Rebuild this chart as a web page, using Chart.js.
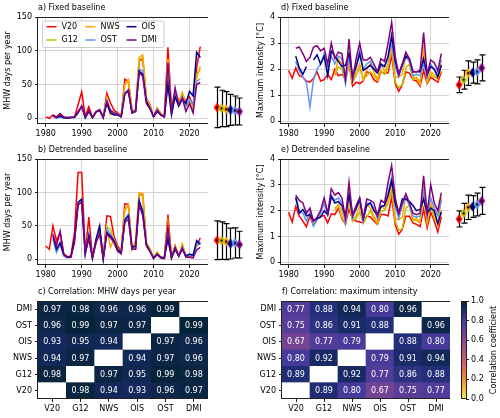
<!DOCTYPE html>
<html>
<head>
<meta charset="utf-8">
<script src="https://cdn.jsdelivr.net/npm/chart.js@4.4.1/dist/chart.umd.min.js"></script>
<style>
  body { margin: 0; background: #fff; }
  #fig { position: relative; width: 500px; height: 418px; overflow: hidden; background: #fff; }
  #fig canvas { position: absolute; }
</style>
</head>
<body>
<div id="fig">
  <canvas id="pa" width="208" height="145" style="left:0px;top:0px"></canvas>
  <canvas id="ea" width="42" height="145" style="left:208px;top:0px"></canvas>
  <canvas id="pb" width="208" height="144" style="left:0px;top:142px"></canvas>
  <canvas id="eb" width="42" height="144" style="left:208px;top:142px"></canvas>
  <canvas id="pd" width="197" height="145" style="left:252px;top:0px"></canvas>
  <canvas id="ed" width="43" height="145" style="left:449px;top:0px"></canvas>
  <canvas id="pe" width="197" height="144" style="left:252px;top:142px"></canvas>
  <canvas id="ee" width="43" height="144" style="left:449px;top:142px"></canvas>
  <canvas id="pc" width="208" height="134" style="left:0px;top:284px"></canvas>
  <canvas id="pf" width="198" height="134" style="left:252px;top:284px"></canvas>
  <canvas id="cb" width="44" height="118" style="left:456px;top:291px"></canvas>
</div>
<script>
var N = null;

// ---- data ----
var years = [1980,1981,1982,1983,1984,1985,1986,1987,1988,1989,
             1990,1991,1992,1993,1994,1995,1996,1997,1998,1999,
             2000,2001,2002,2003,2004,2005,2006,2007,2008,2009,
             2010,2011,2012,2013,2014,2015,2016,2017,2018,2019,
             2020,2021,2022,2023];
var xTicks = [1980, 1990, 2000, 2010, 2020];
var daysTicks = [0, 50, 100, 150];
var intTicks = [0, 1, 2, 3, 4];
var cbTicks = [0, 0.2, 0.4, 0.6, 0.8, 1.0];
var models = ['V20', 'G12', 'NWS', 'OIS', 'OST', 'DMI'];

// a) MHW days per year, fixed baseline
var daysFixV20 = [2,0,5,2,5,1,1,1,2,20, 39,3,17,1,10,12,1,37,23,12, 8,3,58,55,12,12,85,88,30,20, 3,15,7,3,105,15,40,25,35,25, 32,18,75,106];
var daysFixG12 = [N,N,N,N,N,N,N,N,N,N, N,N,N,1,10,12,1,28,10,8, 6,3,50,55,10,12,86,90,28,18, 3,14,6,3,85,12,38,22,38,18, 22,12,65,73];
var daysFixNWS = [N,N,N,N,N,N,N,N,N,N, N,N,N,1,9,13,1,30,5,8, 6,3,50,57,10,12,90,94,28,18, 3,15,6,3,88,12,40,22,38,18, 25,15,60,77];
var daysFixOST = [N,N,3,1,2,0,1,1,2,9, 17,1,11,1,10,13,1,26,10,7, 6,2,38,42,9,12,73,70,24,15, 3,13,5,2,55,8,35,20,32,18, 28,20,55,58];
var daysFixOIS = [N,N,4,1,3,1,0,1,1,8, 18,1,10,1,9,12,1,22,8,5, 5,2,36,40,8,10,70,65,25,15, 2,10,5,2,50,5,32,18,28,22, 40,33,98,90];
var daysFixDMI = [N,N,3,2,7,2,1,1,2,10, 18,2,12,1,10,12,1,25,12,8, 6,3,36,42,8,10,68,62,22,14, 2,12,5,2,82,10,45,20,30,10, 22,8,50,53];

// b) MHW days per year, detrended baseline
var daysDetV20 = [20,15,50,28,40,8,4,5,40,130, 130,10,63,3,25,45,2,65,64,35, 20,12,83,82,15,15,97,97,25,15, 2,10,3,2,67,3,20,5,20,5, 5,4,20,32];
var daysDetG12 = [N,N,N,N,N,N,N,N,N,N, N,N,N,3,27,40,2,48,45,30, 15,11,72,82,15,25,97,95,25,15, 2,10,3,2,52,3,20,5,23,5, 6,5,20,24];
var daysDetNWS = [N,N,N,N,N,N,N,N,N,N, N,N,N,3,28,42,2,48,18,30, 16,12,75,80,15,28,100,98,25,15, 2,10,3,2,55,3,20,5,22,5, 6,5,20,25];
var daysDetOST = [N,N,30,10,22,5,2,3,28,80, 88,8,38,2,28,40,1,45,38,28, 14,9,60,68,16,18,85,75,22,12, 2,8,3,2,40,2,16,5,18,4, 6,5,22,26];
var daysDetOIS = [N,N,35,15,25,7,3,4,30,85, 90,8,35,2,30,50,1,40,35,28, 15,10,58,65,18,20,88,70,22,12, 2,8,3,2,30,2,15,5,15,5, 8,6,28,22];
var daysDetDMI = [N,N,38,20,42,8,3,3,25,82, 85,10,30,2,25,38,1,38,32,25, 12,8,55,60,15,15,82,65,20,12, 1,7,2,1,48,3,18,5,17,3, 3,2,14,18];

// d) maximum intensity, fixed baseline
var intFixV20 = [1.95,1.65,2.05,1.75,1.7,1.55,1.5,1.65,1.9,1.55, 1.6,1.8,1.6,2.0,1.75,1.8,1.65,2.2,1.35,1.5, 1.45,1.55,1.9,1.85,1.6,1.5,1.9,1.85,1.85,2.55, 1.45,1.15,1.4,1.9,1.85,1.6,1.55,1.35,1.95,1.45, 1.7,1.6,1.5,1.9];
var intFixG12 = [N,N,N,N,N,N,N,N,N,N, N,N,N,1.75,2.1,2.0,1.5,2.2,1.5,1.75, 2.05,1.6,1.75,1.9,1.75,1.55,1.95,1.8,2.05,2.8, 1.5,1.3,1.4,2.05,2.2,1.6,1.7,1.5,2.6,1.5, 1.8,1.7,1.65,1.95];
var intFixNWS = [N,N,N,N,N,N,N,N,N,N, N,N,N,1.8,2.4,2.2,1.7,2.3,1.5,1.9, 2.2,1.6,2.0,2.2,1.9,1.6,2.2,1.9,2.2,2.85, 1.7,1.7,1.8,2.55,2.3,1.7,1.65,1.4,2.8,1.55, 1.9,1.8,1.6,2.2];
var intFixOST = [N,N,2.3,1.95,1.7,1.5,0.55,1.6,2.0,2.2, 2.6,2.0,2.5,2.2,2.5,2.4,1.45,2.5,1.6,2.1, 2.7,2.0,2.2,2.3,2.05,1.9,2.1,2.1,2.4,3.0, 2.1,1.7,2.1,2.45,2.3,1.75,1.8,1.75,2.2,1.7, 2.2,2.0,1.85,2.35];
var intFixOIS = [N,N,2.5,2.05,1.8,2.1,N,2.35,2.55,2.2, 2.5,1.75,2.7,2.5,2.3,2.1,2.15,2.6,1.75,2.1, 2.6,1.95,2.05,2.15,2.0,1.85,2.2,2.1,2.5,3.3, 2.3,1.8,2.2,2.5,2.4,1.9,1.9,1.9,2.4,1.8, 2.1,2.0,1.7,2.15];
var intFixDMI = [N,N,2.8,2.85,2.6,2.3,2.45,2.85,2.9,2.7, 2.8,2.2,3.0,2.4,2.65,2.6,1.6,3.15,1.6,2.4, 3.0,2.35,2.35,2.45,2.2,1.9,2.4,2.3,3.0,3.8, 2.5,1.8,2.2,2.65,2.4,1.9,1.9,1.95,3.4,1.8, 2.35,2.25,1.95,2.6];

// e) maximum intensity, detrended baseline
var intDetV20 = [1.94,1.56,2.17,1.79,1.6,1.38,1.79,1.43,1.66,1.79, 1.81,1.53,1.88,1.85,2.1,1.69,1.47,2.07,1.66,1.6, 1.56,1.53,1.79,1.76,1.6,1.47,1.85,1.85,1.8,2.53, 1.47,1.09,1.28,1.79,1.79,1.53,1.47,1.38,2.07,1.34, 1.94,1.6,1.18,1.76];
var intDetG12 = [N,N,N,N,N,N,N,N,N,N, N,N,N,2.0,2.25,2.0,1.6,2.3,1.6,1.7, 1.95,1.55,1.75,2.0,1.7,1.5,2.0,2.0,2.3,2.8, 1.6,1.25,1.3,2.1,2.2,1.6,1.7,1.55,2.6,1.5, 2.2,1.7,1.5,2.0];
var intDetNWS = [N,N,N,N,N,N,N,N,N,N, N,N,N,2.1,2.2,1.75,1.5,2.5,1.6,1.8, 2.2,1.55,2.3,2.1,1.8,1.55,2.2,2.05,2.4,3.2, 1.7,1.65,1.75,2.6,2.3,1.7,1.6,1.55,2.9,1.6, 2.3,1.9,1.4,2.5];
var intDetOST = [N,N,2.55,2.0,1.9,1.6,1.95,1.4,1.65,1.9, 2.3,1.85,2.6,2.4,2.5,2.3,1.5,2.7,1.7,2.05, 2.4,1.6,2.3,2.3,2.1,1.7,2.2,2.2,2.7,3.3, 2.2,1.7,2.2,2.5,2.2,1.8,1.75,1.8,2.7,1.8, 2.5,2.1,1.8,2.4];
var intDetOIS = [N,N,2.5,1.9,2.05,1.8,1.85,1.6,1.7,1.75, 2.0,1.85,2.55,2.3,2.35,2.2,1.8,2.6,1.85,2.1, 2.45,1.7,2.2,2.3,2.0,1.85,2.15,2.2,2.6,3.15, 2.3,1.9,2.45,2.45,2.35,2.2,2.0,2.05,2.45,1.9, 2.1,2.0,1.5,1.95];
var intDetDMI = [N,N,2.6,2.4,2.3,1.9,2.1,1.6,1.75,2.0, 2.5,1.9,2.85,2.6,2.7,2.5,1.7,3.1,1.8,2.2, 2.5,1.7,2.45,2.4,2.3,1.8,2.4,2.3,3.1,3.75, 2.5,1.9,2.3,2.65,2.3,1.9,1.85,1.9,3.35,1.9, 3.0,2.3,2.0,2.7];

// mean +/- std per product, order V20 G12 NWS OIS OST DMI
var daysFixMean = [16, 14.5, 13.5, 12.5, 11.5, 10];
var daysFixSd   = [30, 27, 26, 23, 21.5, 20];
var daysDetMean = [28.5, 28, 26.5, 23.5, 24.5, 22];
var daysDetSd   = [29, 28, 27, 23, 22.5, 20];
var intFixMean  = [1.4, 1.6, 1.85, 1.87, 1.9, 2.05];
var intFixSd    = [0.3, 0.36, 0.47, 0.4, 0.46, 0.5];
var intDetMean  = [1.68, 1.9, 2.13, 2.16, 2.24, 2.38];
var intDetSd    = [0.31, 0.38, 0.47, 0.42, 0.44, 0.52];

// correlation matrices, rows bottom-to-top V20 G12 NWS OIS OST DMI
var corrDays = [
  [N, 0.98, 0.94, 0.93, 0.96, 0.97],
  [0.98, N, 0.97, 0.95, 0.99, 0.98],
  [0.94, 0.97, N, 0.94, 0.97, 0.96],
  [0.93, 0.95, 0.94, N, 0.97, 0.96],
  [0.96, 0.99, 0.97, 0.97, N, 0.99],
  [0.97, 0.98, 0.96, 0.96, 0.99, N]
];
var corrInt = [
  [N, 0.89, 0.80, 0.67, 0.75, 0.77],
  [0.89, N, 0.92, 0.77, 0.86, 0.88],
  [0.80, 0.92, N, 0.79, 0.91, 0.94],
  [0.67, 0.77, 0.79, N, 0.88, 0.80],
  [0.75, 0.86, 0.91, 0.88, N, 0.96],
  [0.77, 0.88, 0.94, 0.80, 0.96, N]
];
var rowTicks = [0.5, 1.5, 2.5, 3.5, 4.5, 5.5];

// ---- styles ----
var colors = {V20: '#ff0000', G12: '#bfbf00', NWS: '#ffa500', OST: '#6495ed', OIS: '#00008b', DMI: '#800080'};
var gridColor = '#d4d4d4';
var cmapStops = [
  [0.0, [232,236,85]], [0.1, [246,185,58]], [0.2, [242,140,60]], [0.3, [225,110,85]],
  [0.4, [200,92,110]], [0.5, [168,80,128]], [0.6, [135,72,140]], [0.7, [105,66,150]],
  [0.8, [70,58,155]], [0.9, [28,44,112]], [1.0, [4,35,51]]
];

Chart.defaults.font.family = '"DejaVu Sans", sans-serif';
Chart.defaults.font.size = 8;
Chart.defaults.color = '#000';
Chart.defaults.animation = false;
Chart.defaults.responsive = false;
Chart.defaults.devicePixelRatio = 1;
Chart.defaults.plugins.legend.display = false;
Chart.defaults.plugins.tooltip.enabled = false;

function cmap(v) {
    for (var k = 1; k < cmapStops.length; k++) {
        if (v <= cmapStops[k][0]) {
            var t0 = cmapStops[k - 1][0], c0 = cmapStops[k - 1][1];
            var t1 = cmapStops[k][0], c1 = cmapStops[k][1];
            var f = (v - t0) / (t1 - t0);
            return 'rgb(' + c0.map(function(c, i) { return Math.round(c + f * (c1[i] - c)); }).join(',') + ')';
        }
    }
    return 'rgb(' + cmapStops[cmapStops.length - 1][1].join(',') + ')';
}

// black frame round the plot area
var framePlugin = {
    id: 'frame',
    afterDraw: function(chart) {
        var a = chart.chartArea, ctx = chart.ctx;
        ctx.save();
        ctx.strokeStyle = '#222';
        ctx.lineWidth = 1;
        ctx.strokeRect(Math.round(a.left) - 0.5, Math.round(a.top) + 0.5,
                       Math.round(a.right - a.left) + 1, Math.round(a.bottom - a.top) - 1);
        ctx.restore();
    }
};

// legend box, three columns filled column by column
var boxLegendPlugin = {
    id: 'boxLegend',
    afterDatasetsDraw: function(chart, args, opts) {
        if (!opts.show) return;
        var ctx = chart.ctx, a = chart.chartArea;
        var bx = a.left + 4, by = a.top + 3.5, bw = 121.5, bh = 26.5;
        ctx.save();
        ctx.fillStyle = 'rgba(255,255,255,0.8)';
        ctx.strokeStyle = '#cccccc';
        ctx.lineWidth = 1;
        ctx.beginPath();
        if (ctx.roundRect) ctx.roundRect(bx + 0.5, by + 0.5, bw, bh, 2);
        else ctx.rect(bx + 0.5, by + 0.5, bw, bh);
        ctx.fill();
        ctx.stroke();
        var colX = [8.5, 47.5, 88.5], rowY = [9.7, 23];
        chart.data.datasets.forEach(function(d, i) {
            var lx = a.left + colX[Math.floor(i / 2)], ly = a.top + rowY[i % 2];
            ctx.strokeStyle = d.borderColor;
            ctx.lineWidth = 1.5;
            ctx.beginPath();
            ctx.moveTo(lx, ly);
            ctx.lineTo(lx + 10, ly);
            ctx.stroke();
            ctx.fillStyle = '#000';
            ctx.font = '8px "DejaVu Sans", sans-serif';
            ctx.textBaseline = 'middle';
            ctx.fillText(d.label, lx + 15, ly);
        });
        ctx.restore();
    }
};

// black error bars with caps, drawn under the markers
var errBarPlugin = {
    id: 'errbars',
    beforeDatasetsDraw: function(chart, args, opts) {
        var ctx = chart.ctx, x = chart.scales.x, y = chart.scales.y;
        ctx.save();
        ctx.strokeStyle = '#000';
        ctx.lineWidth = 1.2;
        chart.data.datasets[0].data.forEach(function(p, i) {
            var px = Math.round(x.getPixelForValue(p.x)) + 0.5;
            var top = y.getPixelForValue(p.y + opts.sd[i]);
            var bot = y.getPixelForValue(p.y - opts.sd[i]);
            ctx.beginPath();
            ctx.moveTo(px, top); ctx.lineTo(px, bot);
            ctx.moveTo(px - 3, top); ctx.lineTo(px + 3, top);
            ctx.moveTo(px - 3, bot); ctx.lineTo(px + 3, bot);
            ctx.stroke();
        });
        ctx.restore();
    }
};

// correlation values written in the cells
var cellTextPlugin = {
    id: 'cellText',
    afterDatasetsDraw: function(chart) {
        var ctx = chart.ctx;
        ctx.save();
        ctx.fillStyle = '#ffffff';
        ctx.font = '8px "DejaVu Sans", sans-serif';
        ctx.textAlign = 'center';
        ctx.textBaseline = 'middle';
        chart.data.datasets.forEach(function(ds, r) {
            chart.getDatasetMeta(r).data.forEach(function(bar, j) {
                var v = ds.values[j];
                if (v === null) return;
                ctx.fillText(v.toFixed(2), bar.x, (bar.y + bar.base) / 2 + 0.5);
            });
        });
        ctx.restore();
    }
};

var cbLabelPlugin = {
    id: 'cbLabel',
    afterDraw: function(chart, args, opts) {
        var ctx = chart.ctx, a = chart.chartArea;
        ctx.save();
        ctx.translate(a.right + opts.dx, (a.top + a.bottom) / 2);
        ctx.rotate(-Math.PI / 2);
        ctx.font = '8px "DejaVu Sans", sans-serif';
        ctx.fillStyle = '#000';
        ctx.textAlign = 'center';
        ctx.textBaseline = 'middle';
        ctx.fillText(opts.text, 0, 0);
        ctx.restore();
    }
};

// thin diamond marker with black centre
function diamondMarker(color) {
    var c = document.createElement('canvas');
    c.width = 8; c.height = 11;
    var g = c.getContext('2d');
    g.fillStyle = color;
    g.beginPath();
    g.moveTo(4, 0.5); g.lineTo(7.5, 5.5); g.lineTo(4, 10.5); g.lineTo(0.5, 5.5);
    g.closePath();
    g.fill();
    g.fillStyle = '#000';
    g.fillRect(3, 4.5, 2, 2);
    return c;
}

function titleOpts(text) {
    return {
        display: true, text: text, align: 'start', fullSize: false,
        padding: {top: 3, bottom: 4.4}, font: {size: 8, weight: 'normal'}, color: '#000'
    };
}

function xs(vals) {
    return years.map(function(yr, i) { return {x: yr, y: vals[i]}; });
}

function lineChart(id, title, yTitle, series, yMin, yMax, yTicks, yWidth, yTitlePad, legend) {
    var order = ['V20', 'G12', 'NWS', 'OST', 'OIS', 'DMI'];
    var datasets = order.map(function(m, i) {
        return {
            label: m, data: xs(series[m]), borderColor: colors[m], borderWidth: 1.5,
            pointRadius: 0, fill: false, tension: 0, spanGaps: false, order: order.length - i
        };
    });
    return new Chart(document.getElementById(id), {
        type: 'line',
        data: {datasets: datasets},
        options: {
            layout: {padding: 0},
            plugins: {title: titleOpts(title), boxLegend: {show: legend}},
            scales: {
                x: {
                    type: 'linear', min: 1977.85, max: 2025.15,
                    afterBuildTicks: function(s) { s.ticks = xTicks.map(function(v) { return {value: v}; }); },
                    afterFit: function(s) { s.height = 21; },
                    ticks: {callback: function(v) { return String(v); }, maxRotation: 0, autoSkip: false, padding: 2},
                    grid: {color: gridColor, lineWidth: 1, tickColor: '#222', tickLength: 3},
                    border: {display: false}
                },
                y: {
                    type: 'linear', min: yMin, max: yMax,
                    afterBuildTicks: function(s) { s.ticks = yTicks.map(function(v) { return {value: v}; }); },
                    afterFit: function(s) { s.width = yWidth; },
                    ticks: {callback: function(v) { return String(v); }, padding: 3},
                    grid: {color: gridColor, lineWidth: 1, tickColor: '#222', tickLength: 3},
                    border: {display: false},
                    title: {display: true, text: yTitle, padding: {top: yTitlePad, bottom: 0}, font: {size: 8}}
                }
            }
        },
        plugins: [framePlugin, boxLegendPlugin]
    });
}

function errChart(id, means, sds, yMin, yMax, xMin, xMax) {
    return new Chart(document.getElementById(id), {
        type: 'scatter',
        data: {datasets: [{
            data: means.map(function(m, i) { return {x: i, y: m}; }),
            pointStyle: models.map(function(m) { return diamondMarker(colors[m]); }),
            pointRadius: 5, clip: false
        }]},
        options: {
            layout: {padding: {top: 17, bottom: 21, left: 0, right: 0}},
            plugins: {errbars: {sd: sds}},
            scales: {
                x: {display: false, type: 'linear', min: xMin, max: xMax},
                y: {display: false, type: 'linear', min: yMin, max: yMax}
            }
        },
        plugins: [errBarPlugin]
    });
}

function heatChart(id, title, matrix, yWidth) {
    var datasets = matrix.map(function(row) {
        return {
            data: row.map(function() { return 1; }),
            values: row,
            backgroundColor: row.map(function(v) { return v === null ? '#ffffff' : cmap(v); }),
            borderWidth: 0, barPercentage: 1, categoryPercentage: 1
        };
    });
    return new Chart(document.getElementById(id), {
        type: 'bar',
        data: {labels: models, datasets: datasets},
        options: {
            layout: {padding: 0},
            plugins: {title: titleOpts(title)},
            scales: {
                x: {
                    stacked: true,
                    afterFit: function(s) { s.height = 19; },
                    ticks: {maxRotation: 0, autoSkip: false, padding: 2},
                    grid: {drawOnChartArea: false, offset: false, tickColor: '#222', tickLength: 3},
                    border: {display: false}
                },
                y: {
                    stacked: true, type: 'linear', min: 0, max: 6,
                    afterBuildTicks: function(s) { s.ticks = rowTicks.map(function(v) { return {value: v}; }); },
                    afterFit: function(s) { s.width = yWidth; },
                    ticks: {callback: function(v, i) { return models[i]; }, padding: 3},
                    grid: {drawOnChartArea: false, tickColor: '#222', tickLength: 3},
                    border: {display: false}
                }
            }
        },
        plugins: [cellTextPlugin, framePlugin]
    });
}

lineChart('pa', 'a) Fixed baseline', 'MHW days per year',
    {V20: daysFixV20, G12: daysFixG12, NWS: daysFixNWS, OST: daysFixOST, OIS: daysFixOIS, DMI: daysFixDMI},
    -8.5, 150, daysTicks, 38, 3.5, true);
lineChart('pb', 'b) Detrended baseline', 'MHW days per year',
    {V20: daysDetV20, G12: daysDetG12, NWS: daysDetNWS, OST: daysDetOST, OIS: daysDetOIS, DMI: daysDetDMI},
    -8.5, 150, daysTicks, 38, 3.5, false);
lineChart('pd', 'd) Fixed baseline', 'Maximum intensity [\u00b0C]',
    {V20: intFixV20, G12: intFixG12, NWS: intFixNWS, OST: intFixOST, OIS: intFixOIS, DMI: intFixDMI},
    -0.1, 4, intTicks, 29, 4.2, false);
lineChart('pe', 'e) Detrended baseline', 'Maximum intensity [\u00b0C]',
    {V20: intDetV20, G12: intDetG12, NWS: intDetNWS, OST: intDetOST, OIS: intDetOIS, DMI: intDetDMI},
    -0.1, 4, intTicks, 29, 4.2, false);

errChart('ea', daysFixMean, daysFixSd, -8.5, 150, -0.69, 6.03);
errChart('eb', daysDetMean, daysDetSd, -8.5, 150, -0.69, 6.03);
errChart('ed', intFixMean, intFixSd, -0.1, 4, -0.91, 5.97);
errChart('ee', intDetMean, intDetSd, -0.1, 4, -0.91, 5.97);

heatChart('pc', 'c) Correlation: MHW days per year', corrDays, 38);
heatChart('pf', 'f) Correlation: maximum intensity', corrInt, 30);

new Chart(document.getElementById('cb'), {
    type: 'bar',
    data: {labels: [''], datasets: [{
        data: [[0, 1]], borderWidth: 0, barPercentage: 1, categoryPercentage: 1,
        backgroundColor: function(context) {
            var chart = context.chart, y = chart.scales.y;
            if (!chart.chartArea || !y) return cmap(0.5);
            var g = chart.ctx.createLinearGradient(0, y.getPixelForValue(0), 0, y.getPixelForValue(1));
            cmapStops.forEach(function(s) { g.addColorStop(s[0], 'rgb(' + s[1].join(',') + ')'); });
            return g;
        }
    }]},
    options: {
        layout: {padding: {top: 10, bottom: 10, left: 6, right: 0}},
        plugins: {cbLabel: {text: 'Correlation coefficient', dx: 28}},
        scales: {
            x: {display: false},
            y: {
                position: 'right', min: 0, max: 1,
                afterBuildTicks: function(s) { s.ticks = cbTicks.map(function(v) { return {value: v}; }); },
                afterFit: function(s) { s.width = 34; },
                ticks: {callback: function(v) { return v.toFixed(1); }, padding: 2},
                grid: {drawOnChartArea: false, tickColor: '#222', tickLength: 3},
                border: {display: false}
            }
        }
    },
    plugins: [framePlugin, cbLabelPlugin]
});
</script>
</body>
</html>
